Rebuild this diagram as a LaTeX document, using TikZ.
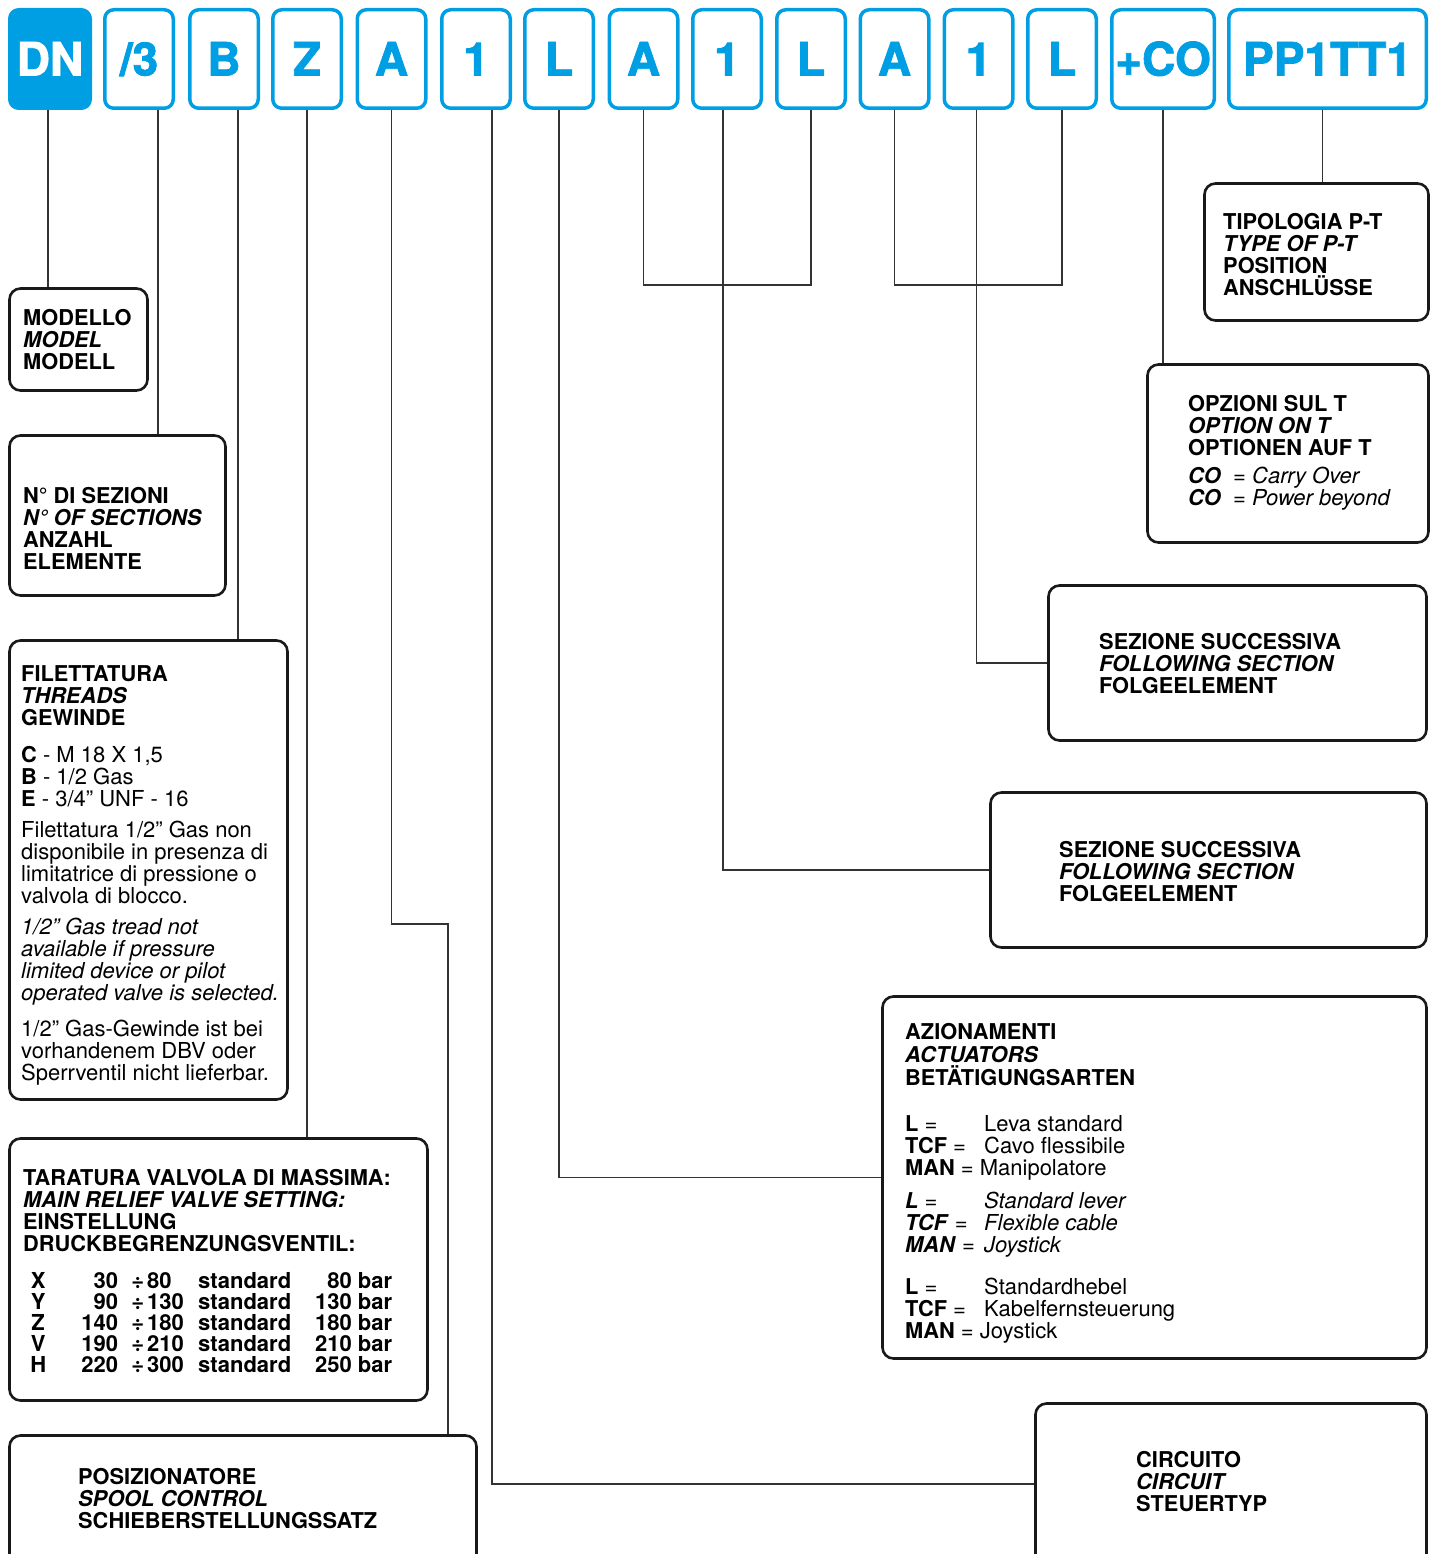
\documentclass[tikz,border=0pt]{standalone}
\usepackage{fontspec}
\setmainfont{TeX Gyre Heros}
\newfontfamily\codefont{TeX Gyre Heros}[BoldFeatures={FakeBold=1.8}]
\definecolor{codeblue}{HTML}{009FE3}

% regular body text and one row of the pressure table
\newcommand{\txtreg}[1]{{\fontsize{22}{22}\selectfont\mdseries #1}}
\newcommand{\txtrow}[4]{{\fontsize{22}{22}\selectfont\makebox[30pt]{#1}\makebox[65pt][r]{#2}\makebox[29pt][r]{÷\hspace{3pt}}\makebox[51pt][l]{#3}\makebox[95pt][l]{standard}\makebox[99pt][r]{#4}}}

\begin{document}
\begin{tikzpicture}[x=1pt, y=-1pt,
    codebox/.style={draw=codeblue, line width=3.5pt, rounded corners=9pt, inner sep=0pt, minimum width=68.5pt, minimum height=98.5pt, text height=33pt, text depth=0pt, text=codeblue, font=\codefont\fontsize{46}{46}\selectfont\bfseries},
    codemain/.style={codebox, fill=codeblue, text=white, minimum width=80.5pt},
    box/.style={draw=black!90, line width=2.6pt, rounded corners=11pt},
    txt/.style={anchor=north west, align=left, inner sep=0pt, font=\fontsize{21.8}{22}\selectfont\bfseries},
    wire/.style={draw=black!80, line width=1.3pt}
]
\clip (0,0) rectangle (1438,1554);

% codice di ordinazione
\node[codemain] (codeDN) at (50,59) {DN};
\node[codebox] (code3) at (139,59) {/3};
\node[codebox] (codeB) at (224,59) {B};
\node[codebox] (codeZ) at (307,59) {Z};
\node[codebox] (codeA1) at (391.5,59) {A};
\node[codebox] (code11) at (476,59) {1};
\node[codebox] (codeL1) at (559,59) {L};
\node[codebox] (codeA2) at (643.5,59) {A};
\node[codebox] (code12) at (727,59) {1};
\node[codebox] (codeL2) at (811,59) {L};
\node[codebox] (codeA3) at (894.5,59) {A};
\node[codebox] (code13) at (978.5,59) {1};
\node[codebox] (codeL3) at (1062,59) {L};
\node[codebox, minimum width=102.5pt] (codeCO) at (1163,59) {+CO};
\node[codebox, minimum width=197.5pt] (codePT) at (1327.5,59) {PP1TT1};

% riquadri a sinistra
\node[box, minimum width=138pt, minimum height=102pt] (modello) at (78.5,339.5) {};
\node[txt] (modellotxt) at (23,309) {MODELLO\\ \textit{MODEL}\\ MODELL};

\node[box, minimum width=216pt, minimum height=160pt] (sezioni) at (117.5,515.5) {};
\node[txt] (sezionitxt) at (23,487) {N° DI SEZIONI\\ \textit{N° OF SECTIONS}\\ ANZAHL\\ ELEMENTE};

\node[box, minimum width=278pt, minimum height=459pt] (filetto) at (148.5,870) {};
\node[txt] (filettotxt) at (21,665) {FILETTATURA\\ \textit{THREADS}\\ GEWINDE\\[15pt]
  C\txtreg{ - M 18 X 1,5}\\ B\txtreg{ - 1/2 Gas}\\ E\txtreg{ - 3/4” UNF - 16}\\[9pt]
  \txtreg{Filettatura 1/2” Gas non}\\ \txtreg{disponibile in presenza di}\\ \txtreg{limitatrice di pressione o}\\ \txtreg{valvola di blocco.}\\[9pt]
  \txtreg{\textit{1/2” Gas tread not}}\\ \txtreg{\textit{available if pressure}}\\ \txtreg{\textit{limited device or pilot}}\\ \txtreg{\textit{operated valve is selected.}}\\[14pt]
  \txtreg{1/2” Gas-Gewinde ist bei}\\ \txtreg{vorhandenem DBV oder}\\ \txtreg{Sperrventil nicht lieferbar.}};

\node[box, minimum width=418pt, minimum height=262pt] (taratura) at (218.5,1269.5) {};
\node[txt] (taraturatxt) at (23,1169) {TARATURA VALVOLA DI MASSIMA:\\ \textit{MAIN RELIEF VALVE SETTING:}\\ EINSTELLUNG\\ DRUCKBEGRENZUNGSVENTIL:\\[15pt]
  \txtrow{X}{30}{80}{80 bar}\\[-1pt] \txtrow{Y}{90}{130}{130 bar}\\[-1pt] \txtrow{Z}{140}{180}{180 bar}\\[-1pt]
  \txtrow{V}{190}{210}{210 bar}\\[-1pt] \txtrow{H}{220}{300}{250 bar}};

\node[box, minimum width=467pt, minimum height=129pt] (posiz) at (243,1500) {};
\node[txt] (posiztxt) at (78,1468) {POSIZIONATORE\\ \textit{SPOOL CONTROL}\\ SCHIEBERSTELLUNGSSATZ};

% riquadri a destra
\node[box, minimum width=224pt, minimum height=137pt] (tipologia) at (1316.5,252) {};
\node[txt] (tipologiatxt) at (1223,213) {TIPOLOGIA P-T\\ \textit{TYPE OF P-T}\\ POSITION\\ ANSCHLÜSSE};

\node[box, minimum width=281pt, minimum height=178pt] (opzioni) at (1288,453.5) {};
\node[txt] (opzionitxt) at (1188,395) {OPZIONI SUL T\\ \textit{OPTION ON T}\\ OPTIONEN AUF T\\[6pt]
  \makebox[45pt][l]{\textit{CO}}\txtreg{= \textit{Carry Over}}\\ \makebox[45pt][l]{\textit{CO}}\txtreg{= \textit{Power beyond}}};

\node[box, minimum width=378pt, minimum height=155pt] (succ3) at (1237.5,663) {};
\node[txt] (succ3txt) at (1099,633) {SEZIONE SUCCESSIVA\\ \textit{FOLLOWING SECTION}\\ FOLGEELEMENT};

\node[box, minimum width=436pt, minimum height=155pt] (succ2) at (1208.5,870) {};
\node[txt] (succ2txt) at (1059,841) {SEZIONE SUCCESSIVA\\ \textit{FOLLOWING SECTION}\\ FOLGEELEMENT};

\node[box, minimum width=544pt, minimum height=362pt] (aziona) at (1154.5,1177.5) {};
\node[txt] (azionatxt) at (905,1023) {AZIONAMENTI\\[1pt] \textit{ACTUATORS}\\[1pt] BETÄTIGUNGSARTEN\\[24pt]
  \makebox[79pt][l]{L \txtreg{=}}\txtreg{Leva standard}\\ \makebox[79pt][l]{TCF \txtreg{=}}\txtreg{Cavo flessibile}\\ MAN \txtreg{= Manipolatore}\\[11pt]
  \makebox[79pt][l]{\textit{L} \txtreg{=}}\txtreg{\textit{Standard lever}}\\ \makebox[79pt][l]{\textit{TCF} \txtreg{=}}\txtreg{\textit{Flexible cable}}\\ \makebox[79pt][l]{\textit{MAN} \txtreg{=}}\txtreg{\textit{Joystick}}\\[20pt]
  \makebox[79pt][l]{L \txtreg{=}}\txtreg{Standardhebel}\\ \makebox[79pt][l]{TCF \txtreg{=}}\txtreg{Kabelfernsteuerung}\\ MAN \txtreg{= Joystick}};

\node[box, minimum width=391pt, minimum height=161pt] (circuito) at (1231,1484) {};
\node[txt] (circuitotxt) at (1136,1451) {CIRCUITO\\ \textit{CIRCUIT}\\ STEUERTYP};

% linee di collegamento
\coordinate (bendA) at (448,924);
\coordinate (tie2) at (723,285);
\coordinate (tie3) at (976,285);
\draw[wire] ([xshift=-2pt]codeDN.south) -- ([xshift=-2pt]codeDN.south |- modello.north);
\draw[wire] ([xshift=19pt]code3.south) -- ([xshift=19pt]code3.south |- sezioni.north);
\draw[wire] ([xshift=14pt]codeB.south) -- ([xshift=14pt]codeB.south |- filetto.north);
\draw[wire] (codeZ.south) -- (codeZ.south |- taratura.north);
\draw[wire] (codeA1.south) |- (bendA) -- (bendA |- posiz.north);
\draw[wire] ([xshift=16pt]code11.south) |- (circuito.west);
\draw[wire] (codeL1.south) |- (aziona.west);
\draw[wire] (codeA2.south) |- (tie2) -| (codeL2.south);
\draw[wire] ([xshift=-4pt]code12.south) |- (succ2.west);
\draw[wire] (codeA3.south) |- (tie3) -| (codeL3.south);
\draw[wire] ([xshift=-2pt]code13.south) |- (succ3.west);
\draw[wire] (codeCO.south) -- (codeCO.south |- opzioni.north);
\draw[wire] ([xshift=-5pt]codePT.south) -- ([xshift=-5pt]codePT.south |- tipologia.north);

\end{tikzpicture}
\end{document}
